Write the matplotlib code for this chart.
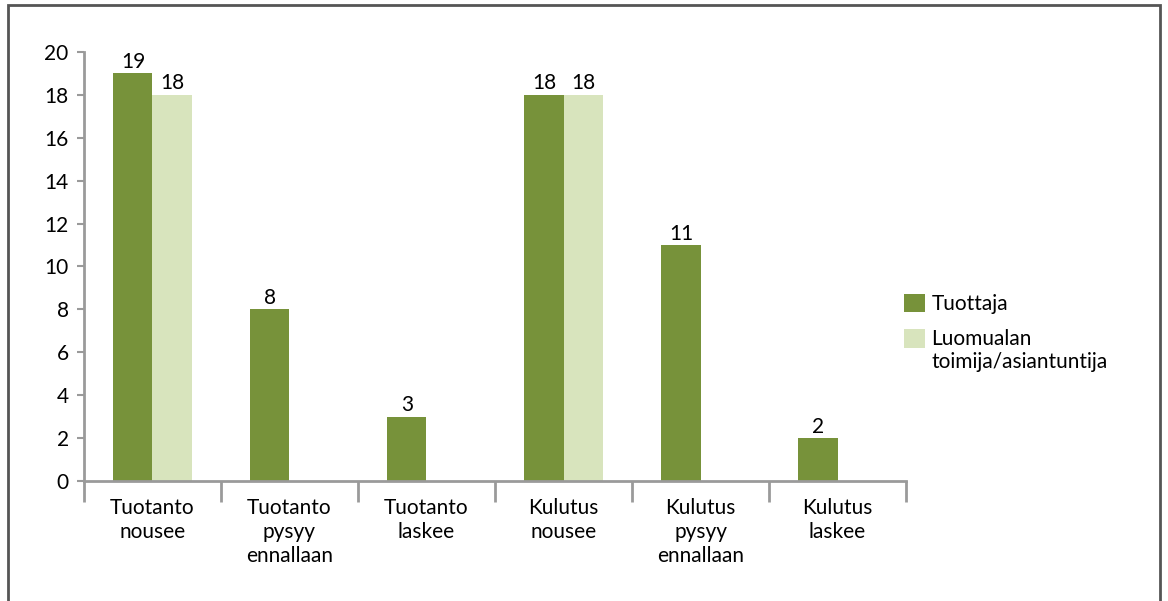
import numpy as np
import matplotlib.pyplot as plt
from matplotlib.patches import Rectangle

categories = ['Tuotanto\nnousee', 'Tuotanto\npysyy\nennallaan', 'Tuotanto\nlaskee',
              'Kulutus\nnousee', 'Kulutus\npysyy\nennallaan', 'Kulutus\nlaskee']
tuottaja = [19, 8, 3, 18, 11, 2]
luomu = [18, 0, 0, 18, 0, 0]
series_names = ['Tuottaja', 'Luomualan\ntoimija/asiantuntija']

dark = '#77923a'
light = '#d8e4bd'
axis_col = '#9a9a9a'

plt.rcParams['font.family'] = ['Lato', 'DejaVu Sans']
fs = 15

fig = plt.figure(figsize=(11.68, 6.01), dpi=100)
ax = fig.add_axes([0.0719, 0.1997, 0.7038, 0.7138])

x = np.arange(len(categories))
w = 0.285
b1 = ax.bar(x - w / 2, tuottaja, w, color=dark, label=series_names[0])
b2 = ax.bar(x + w / 2, luomu, w, color=light, label=series_names[1])

for bars, vals in ((b1, tuottaja), (b2, luomu)):
    for r, v in zip(bars, vals):
        if v:
            ax.annotate(str(v), (r.get_x() + r.get_width() / 2, v), xytext=(0, 1),
                        textcoords='offset points', ha='center', va='bottom', fontsize=fs)

ax.set_xlim(-0.5, len(categories) - 0.5)
ax.set_ylim(0, 20)
ax.set_yticks(range(0, 21, 2))
ax.set_xticks(np.arange(len(categories) + 1) - 0.5)
ax.set_xticklabels([])
ax.set_xticks(x, minor=True)
ax.set_xticklabels(categories, minor=True, fontsize=fs, linespacing=1.25)
ax.tick_params(axis='x', which='major', length=15, width=2, color=axis_col, direction='out')
ax.tick_params(axis='x', which='minor', length=0, pad=12)
ax.tick_params(axis='y', length=5, width=1.5, color=axis_col, labelsize=fs, pad=6)

for s in ('top', 'right'):
    ax.spines[s].set_visible(False)
for s in ('left', 'bottom'):
    ax.spines[s].set_color(axis_col)
    ax.spines[s].set_linewidth(2)

leg = ax.legend(loc='upper left', bbox_to_anchor=(0.975, 0.48), frameon=False, fontsize=fs,
                handlelength=1.0, handleheight=1.0, handletextpad=0.3, labelspacing=0.7)
# put the second swatch next to the first line of its two-line label
h2 = leg.legend_handles[1]
h2.set_y(h2.get_y() + 9)

# outer frame around the chart
fig.patches.append(Rectangle((8 / 1168, -0.05), (1160 - 8) / 1168, 1.05 - 5 / 601,
                             transform=fig.transFigure, fill=False, edgecolor='#555555',
                             linewidth=2))

fig.savefig('out.png', dpi=100)
